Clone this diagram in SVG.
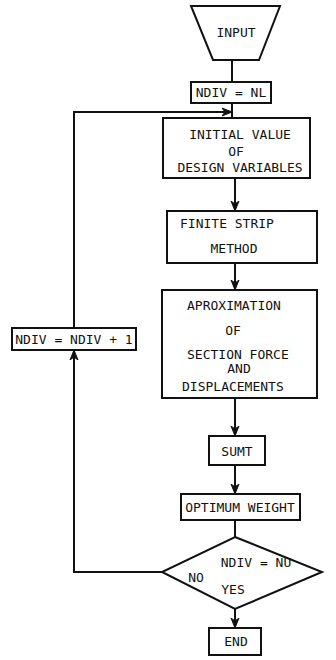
<svg xmlns="http://www.w3.org/2000/svg" width="336" height="660" viewBox="0 0 336 660">
<style>
.b{fill:#fff;stroke:#111;stroke-width:2}
.l{fill:none;stroke:#111;stroke-width:2}
text{font-family:"DejaVu Sans Mono","Liberation Mono",monospace;font-size:13px;fill:#111}
.c{text-anchor:middle}
</style>
<defs>
<marker id="ah" viewBox="0 0 10 10" refX="10" refY="5" markerWidth="10" markerHeight="10" markerUnits="userSpaceOnUse" orient="auto">
<path d="M0,1 L10,5 L0,9 L3,5 Z" fill="#111" stroke="#111" stroke-width="1"/>
</marker>
</defs>
<g id="connectors">
<line class="l" x1="232" y1="60" x2="232" y2="82"/>
<line class="l" x1="232" y1="103" x2="232" y2="118"/>
<line class="l" x1="235" y1="178" x2="235" y2="211" marker-end="url(#ah)"/>
<line class="l" x1="235" y1="263" x2="235" y2="290" marker-end="url(#ah)"/>
<line class="l" x1="235" y1="398" x2="235" y2="436" marker-end="url(#ah)"/>
<line class="l" x1="235" y1="465" x2="235" y2="494" marker-end="url(#ah)"/>
<line class="l" x1="235" y1="520" x2="235" y2="537"/>
<line class="l" x1="235" y1="609" x2="235" y2="628" marker-end="url(#ah)"/>
<polyline class="l" points="162,572 74,572 74,350" marker-end="url(#ah)"/>
<polyline class="l" points="74,328 74,112 232,112" marker-end="url(#ah)"/>
</g>
<g id="input">
<polygon class="b" points="191,6 280,6 259,60 213,60"/>
<text class="c" x="236" y="37">INPUT</text>
</g>
<g id="ndiv-nl">
<rect class="b" x="191" y="82" width="80" height="21"/>
<text class="c" x="231" y="97">NDIV = NL</text>
</g>
<g id="initial">
<rect class="b" x="163" y="118" width="147" height="60"/>
<text class="c" x="240" y="139">INITIAL VALUE</text>
<text class="c" x="236" y="156">OF</text>
<text class="c" x="240" y="172">DESIGN VARIABLES</text>
</g>
<g id="finite">
<rect class="b" x="167" y="211" width="150" height="52"/>
<text x="180" y="228">FINITE STRIP</text>
<text class="c" x="234" y="253">METHOD</text>
</g>
<g id="aprox">
<rect class="b" x="162" y="290" width="155" height="108"/>
<text x="187" y="310">APROXIMATION</text>
<text class="c" x="233" y="335">OF</text>
<text x="187" y="359">SECTION FORCE</text>
<text class="c" x="239" y="373">AND</text>
<text x="182" y="391">DISPLACEMENTS</text>
</g>
<g id="sumt">
<rect class="b" x="209" y="436" width="56" height="29"/>
<text class="c" x="237" y="456">SUMT</text>
</g>
<g id="optimum">
<rect class="b" x="181" y="494" width="119" height="26"/>
<text class="c" x="240" y="512">OPTIMUM WEIGHT</text>
</g>
<g id="decision">
<polygon class="b" points="235,537 322,572 235,609 162,572"/>
<text class="c" x="256" y="567">NDIV = NU</text>
<text class="c" x="196" y="582">NO</text>
<text class="c" x="233" y="594">YES</text>
</g>
<g id="end">
<rect class="b" x="209" y="628" width="52" height="27"/>
<text class="c" x="236" y="646">END</text>
</g>
<g id="ndiv-inc">
<rect class="b" x="12" y="328" width="124" height="22"/>
<text class="c" x="74" y="344">NDIV = NDIV + 1</text>
</g>
</svg>
